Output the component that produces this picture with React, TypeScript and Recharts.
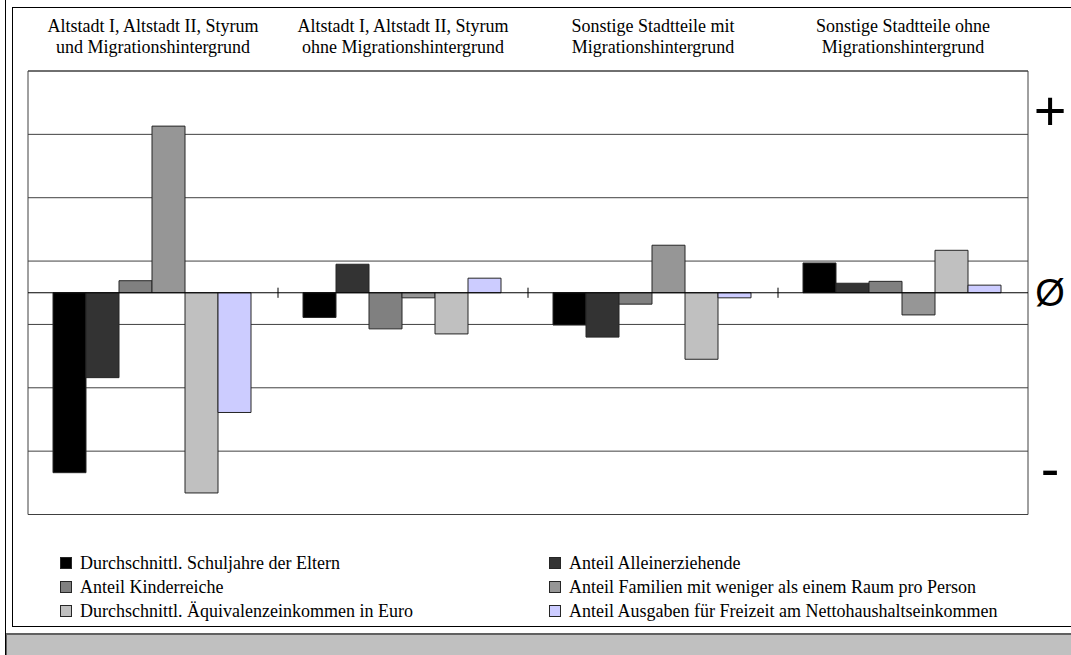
import { Bar, BarChart, CartesianGrid, ReferenceArea, ReferenceLine, XAxis, YAxis } from "recharts";

// Gruppen (Kopfzeilen oben, zweizeilig)
const groupLines = [
  ["Altstadt I, Altstadt II, Styrum", "und Migrationshintergrund"],
  ["Altstadt I, Altstadt II, Styrum", "ohne Migrationshintergrund"],
  ["Sonstige Stadtteile mit", "Migrationshintergrund"],
  ["Sonstige Stadtteile ohne", "Migrationshintergrund"],
];

// Abweichung vom Durchschnitt je Indikator
const schuljahre = [-2.84, -0.39, -0.51, 0.47];
const alleinerziehende = [-1.34, 0.45, -0.7, 0.15];
const kinderreiche = [0.19, -0.57, -0.18, 0.18];
const raumProPerson = [2.63, -0.08, 0.75, -0.35];
const einkommen = [-3.16, -0.65, -1.05, 0.67];
const freizeit = [-1.89, 0.23, -0.08, 0.12];

const seriesNames = [
  "Durchschnittl. Schuljahre der Eltern",
  "Anteil Alleinerziehende",
  "Anteil Kinderreiche",
  "Anteil Familien mit weniger als einem Raum pro Person",
  "Durchschnittl. Äquivalenzeinkommen in Euro",
  "Anteil Ausgaben für Freizeit am Nettohaushaltseinkommen",
];
const seriesValues = [schuljahre, alleinerziehende, kinderreiche, raumProPerson, einkommen, freizeit];
const seriesColors = ["#000000", "#333333", "#808080", "#969696", "#c0c0c0", "#ccccff"];

const gridTicks = [-2.5, -1.5, -0.5, 0.5, 1.5, 2.5];
const sideTicks = [2.88, 0, -2.77];
const sideLabels = ["+", "Ø", "-"];
const groupBoundaries = [1, 2, 3];

const rows = groupLines.map((lines, i) => {
  const row: Record<string, string | number> = { name: lines.join("|"), slot: i + 0.5 };
  seriesValues.forEach((vals, s) => {
    row["s" + s] = vals[i];
  });
  return row;
});

const serif = "'Liberation Serif', 'Times New Roman', serif";
const sans = "'Liberation Sans', Arial, sans-serif";

function HeaderTick(props: any) {
  const { x, y, payload } = props;
  const lines = String(payload.value).split("|");
  return (
    <text x={x} y={y} textAnchor="middle" fontFamily={serif} fontSize={18} fill="#000">
      <tspan x={x} dy={-39.5}>{lines[0]}</tspan>
      <tspan x={x} dy={21.5}>{lines[1]}</tspan>
    </text>
  );
}

function SideTick(props: any) {
  const { y, index } = props;
  const label = sideLabels[index] ?? "";
  const big = label !== "Ø";
  return (
    <text
      x={1050}
      y={y}
      textAnchor="middle"
      dominantBaseline="central"
      fontFamily={sans}
      fontSize={big ? 56 : 38}
      fill="#000"
    >
      {label}
    </text>
  );
}

export default function App() {
  return (
    <div
      style={{
        position: "absolute",
        left: 0,
        top: 0,
        width: 1071,
        height: 655,
        background: "#fff",
        overflow: "hidden",
        fontFamily: serif,
      }}
    >
      <div style={{ position: "absolute", left: 5, top: 0, height: 655, borderLeft: "1px solid #000" }} />
      <div
        style={{
          position: "absolute",
          left: 12,
          top: 7,
          width: 1080,
          height: 620,
          border: "1px solid #000",
          boxSizing: "border-box",
        }}
      />
      <div
        style={{
          position: "absolute",
          left: 6,
          top: 633,
          width: 1080,
          height: 22,
          background: "#c0c0c0",
          borderTop: "2px solid #606060",
          borderLeft: "1px solid #606060",
        }}
      />

      <div style={{ position: "absolute", left: 0, top: 0 }}>
        <BarChart
          width={1071}
          height={520}
          data={rows}
          margin={{ top: 0, right: 0, bottom: 5.5, left: 28 }}
          barCategoryGap="10%"
          barGap={0}
        >
          <CartesianGrid vertical={false} yAxisId="l" xAxisId="top" stroke="#404040" strokeWidth={1} />
          <XAxis
            xAxisId="top"
            dataKey="name"
            orientation="top"
            height={71}
            axisLine={false}
            tickLine={false}
            tickSize={0}
            tickMargin={0}
            interval={0}
            tick={<HeaderTick />}
          />
          <XAxis
            xAxisId="num"
            dataKey="slot"
            type="number"
            domain={[0, 4]}
            ticks={[0, 1, 2, 3, 4]}
            allowDataOverflow
            hide
          />
          <YAxis yAxisId="l" domain={[-3.5, 3.5]} ticks={gridTicks} hide allowDataOverflow />
          <YAxis
            yAxisId="r"
            orientation="right"
            domain={[-3.5, 3.5]}
            ticks={sideTicks}
            interval={0}
            width={43}
            axisLine={false}
            tickLine={false}
            tick={<SideTick />}
            allowDataOverflow
          />
          {seriesValues.map((_, s) => (
            <Bar
              key={s}
              xAxisId="top"
              yAxisId="l"
              dataKey={"s" + s}
              name={seriesNames[s]}
              fill={seriesColors[s]}
              stroke="#262626"
              strokeWidth={1}
              isAnimationActive={false}
            />
          ))}
          <ReferenceLine xAxisId="num" yAxisId="l" y={0} stroke="#000" strokeWidth={1.2} />
          {groupBoundaries.map((b) => (
            <ReferenceLine
              key={b}
              xAxisId="num"
              yAxisId="l"
              segment={[
                { x: b, y: -0.08 },
                { x: b, y: 0.08 },
              ]}
              stroke="#000"
              strokeWidth={1}
            />
          ))}
          <ReferenceArea
            xAxisId="num"
            yAxisId="l"
            x1={0}
            x2={4}
            y1={-3.5}
            y2={3.5}
            fill="none"
            fillOpacity={0}
            stroke="#404040"
            strokeWidth={1}
            ifOverflow="visible"
          />
        </BarChart>
      </div>

      <div
        style={{
          position: "absolute",
          left: 60,
          top: 551,
          display: "grid",
          gridTemplateColumns: "489px auto",
          fontSize: 18,
          lineHeight: "24px",
          color: "#000",
        }}
      >
        {seriesNames.map((n, i) => (
          <div key={n} style={{ display: "flex", alignItems: "center", whiteSpace: "nowrap" }}>
            <span
              style={{
                display: "inline-block",
                width: 10,
                height: 10,
                background: seriesColors[i],
                border: "1px solid #262626",
                marginRight: 8,
              }}
            />
            {n}
          </div>
        ))}
      </div>
    </div>
  );
}
